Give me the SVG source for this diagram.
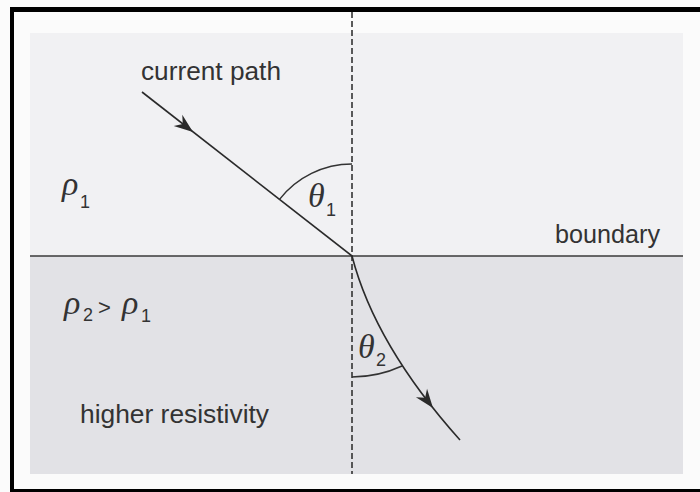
<svg xmlns="http://www.w3.org/2000/svg" width="700" height="492" viewBox="0 0 700 492">
  <style>
    .lbl { font-family: "Liberation Sans", Arial, sans-serif; font-size: 25px; fill: #333; }
    .sym { font-family: "Liberation Serif", "Times New Roman", serif; font-style: italic; font-size: 34px; fill: #333; }
    .sub { font-family: "Liberation Sans", Arial, sans-serif; font-size: 18px; fill: #333; }
    .ray { fill: none; stroke: #2a2a2a; stroke-width: 1.6; }
    .arc { fill: none; stroke: #333; stroke-width: 1.5; }
    .head { fill: #2a2a2a; }
  </style>
  <defs>
    <polygon id="arrowhead" points="0,0 -19,-7 -13,0 -19,7"/>
  </defs>

  <!-- background and frame -->
  <rect x="0" y="0" width="700" height="492" fill="#fbfbfb"/>
  <g id="frame" fill="#000">
    <rect x="10" y="7" width="690" height="5"/>
    <rect x="10" y="7" width="4" height="485"/>
    <rect x="10" y="489" width="690" height="3"/>
  </g>

  <g id="upper-medium">
    <rect x="30" y="33" width="653" height="223" fill="#f1f1f3"/>
    <text class="sym" x="62" y="195">ρ</text>
    <text class="sub" x="80" y="208">1</text>
  </g>

  <g id="lower-medium">
    <rect x="30" y="256" width="653" height="218" fill="#e2e2e6"/>
    <text class="sym" x="64" y="314">ρ</text>
    <text class="sub" x="83" y="321">2</text>
    <text class="lbl" x="98" y="315" style="font-size:22px">&gt;</text>
    <text class="sym" x="122" y="314">ρ</text>
    <text class="sub" x="141" y="322">1</text>
    <text class="lbl" x="80" y="423" textLength="189" lengthAdjust="spacingAndGlyphs">higher resistivity</text>
  </g>

  <g id="labels">
    <text class="lbl" x="141" y="80" textLength="140" lengthAdjust="spacingAndGlyphs">current path</text>
    <text class="lbl" x="555" y="243" textLength="105" lengthAdjust="spacingAndGlyphs">boundary</text>
  </g>

  <g id="connectors">
    <line id="boundary" x1="30" y1="256" x2="683" y2="256" stroke="#3a3a3a" stroke-width="1.6"/>
    <line id="normal" x1="352" y1="12" x2="352" y2="474" stroke="#333" stroke-width="1.6" stroke-dasharray="6,3"/>
    <line id="incident" class="ray" x1="142" y1="92" x2="352" y2="256"/>
    <use href="#arrowhead" class="head" transform="translate(193,132) rotate(37.8)"/>
    <path id="refracted" class="ray" d="M352,256 Q375,345 460,440"/>
    <use href="#arrowhead" class="head" transform="translate(433,408) rotate(52.7)"/>
  </g>

  <g id="angle-1">
    <path class="arc" d="M352,164 A92,92 0 0 0 279.3,199.6"/>
    <text class="sym" x="308" y="207">θ</text>
    <text class="sub" x="326" y="216">1</text>
  </g>

  <g id="angle-2">
    <path class="arc" d="M352,377 A121,121 0 0 0 402,366"/>
    <text class="sym" x="358" y="358">θ</text>
    <text class="sub" x="376" y="366">2</text>
  </g>
</svg>
